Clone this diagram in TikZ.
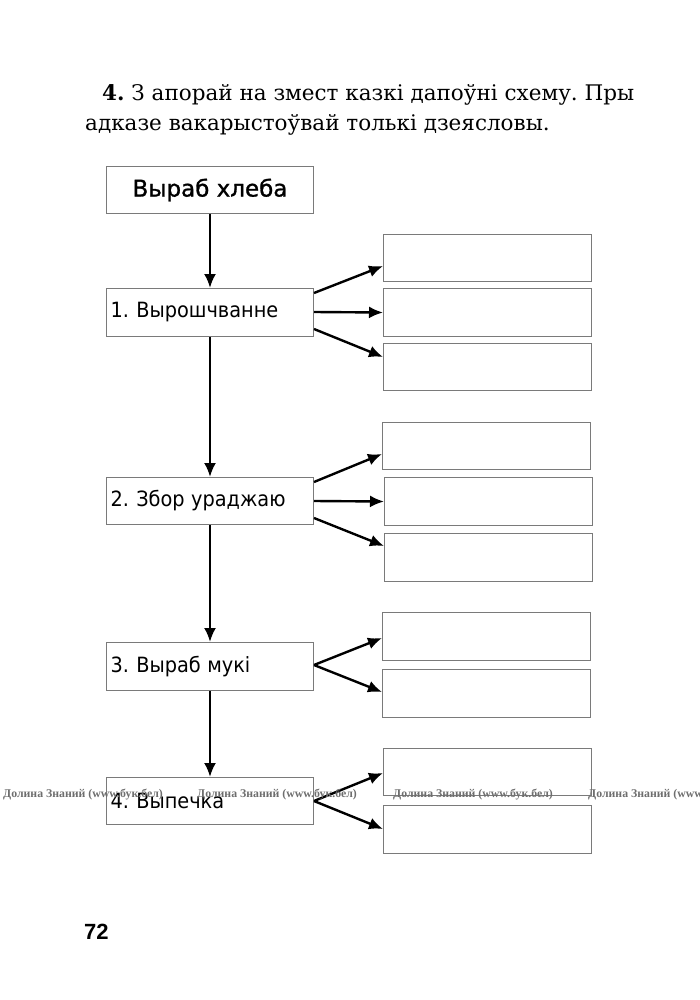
\documentclass[tikz,border=0pt]{standalone}
\usepackage{fontspec}
\setmainfont{DejaVu Serif}
\newfontfamily\boxfont{DejaVu Sans}
\newfontfamily\titlefont[FakeBold=1.2]{DejaVu Sans}
\newfontfamily\wmfont{Liberation Serif}
\newfontfamily\numfont{Liberation Sans}
\usetikzlibrary{arrows.meta,calc}
\definecolor{boxgray}{HTML}{7A7A7A}
\definecolor{wmgray}{HTML}{6E6E6E}
\newcommand{\lbl}[2]{\scalebox{0.92}[1]{#1\hspace{8pt}#2}}
\frenchspacing
\begin{document}
\begin{tikzpicture}[x=1pt,y=-1pt,
  stepbox/.style={draw=boxgray, line width=1pt, anchor=north west, inner xsep=4pt, inner ysep=0pt,
     text width=199pt, align=left, minimum height=47pt, font=\boxfont\fontsize{21}{24}\selectfont},
  titlebox/.style={draw=boxgray, line width=1pt, anchor=north west, inner sep=0pt,
     minimum width=207pt, minimum height=47pt, font=\titlefont\fontsize{23}{26}\selectfont},
  ansbox/.style={draw=boxgray, line width=1pt, anchor=north west, inner sep=0pt,
     minimum width=208pt, minimum height=47pt},
  arr/.style={line width=2.4pt, -{Latex[length=14pt,width=12pt]}},
  head/.style={anchor=base west, inner sep=0pt, font=\fontsize{21.5}{25}\selectfont},
  wm/.style={anchor=west, inner sep=0pt, text=wmgray, font=\wmfont\bfseries\fontsize{11.8}{13}\selectfont}
]
\useasboundingbox (0,0) rectangle (700,1000);

% header
\node[head] (h1) at (102,101) {\textbf{4.} З апорай на змест казкі дапоўні схему. Пры};
\node[head] (h2) at (85,131) {адказе вакарыстоўвай толькі дзеясловы.};

% main column
\node[titlebox] (t) at (106,166) {Выраб хлеба};
\node[stepbox, minimum height=48pt] (s1) at (106,288) {\lbl{1.}{Вырошчванне}};
\node[stepbox] (s2) at (106,477) {\lbl{2.}{Збор ураджаю}};
\node[stepbox, minimum height=48pt] (s3) at (106,642) {\lbl{3.}{Выраб мукі}};
\node[stepbox] (s4) at (106,777) {\lbl{4.}{Выпечка}};

% answer boxes
\node[ansbox] (a11) at (383,234) {};
\node[ansbox, minimum height=48pt] (a12) at (383,288) {};
\node[ansbox] (a13) at (383,343) {};
\node[ansbox] (a21) at (382,422) {};
\node[ansbox, minimum height=48pt] (a22) at (384,477) {};
\node[ansbox, minimum height=48pt] (a23) at (384,533) {};
\node[ansbox, minimum height=48pt] (a31) at (382,612) {};
\node[ansbox, minimum height=48pt] (a32) at (382,669) {};
\node[ansbox] (a41) at (383,748) {};
\node[ansbox, minimum height=48pt] (a42) at (383,805) {};

% vertical arrows
\draw[arr] (t.south) -- (s1.north);
\draw[arr] (s1.south) -- (s2.north);
\draw[arr] (s2.south) -- (s3.north);
\draw[arr] (s3.south) -- (s4.north);

% side arrows
\draw[arr] ($(s1.north east)+(0,5)$) -- ($(a11.north west)+(0,32)$);
\draw[arr] ($(s1.north east)+(0,24)$) -- (a12.west);
\draw[arr] ($(s1.north east)+(0,41)$) -- ($(a13.north west)+(0,14)$);

\draw[arr] ($(s2.north east)+(0,5)$) -- ($(a21.north west)+(0,32)$);
\draw[arr] ($(s2.north east)+(0,24)$) -- (a22.west);
\draw[arr] ($(s2.north east)+(0,41)$) -- ($(a23.north west)+(0,13)$);

\draw[arr] ($(s3.north east)+(0,23)$) -- ($(a31.north west)+(0,26)$);
\draw[arr] ($(s3.north east)+(0,23)$) -- ($(a32.north west)+(0,23)$);

\draw[arr] ($(s4.north east)+(0,24)$) -- ($(a41.north west)+(0,25)$);
\draw[arr] ($(s4.north east)+(0,24)$) -- ($(a42.north west)+(0,24)$);

% page number
\node[anchor=base west, inner sep=0pt, font=\numfont\bfseries\fontsize{22}{24}\selectfont] (pn) at (84,939) {72};

% watermark
\node[wm] (w1) at (3,795) {Долина Знаний (www.бук.бел)};
\node[wm] (w2) at (197,795) {Долина Знаний (www.бук.бел)};
\node[wm] (w3) at (393,795) {Долина Знаний (www.бук.бел)};
\node[wm] (w4) at (588,795) {Долина Знаний (www.бук.бел)};
\end{tikzpicture}
\end{document}
